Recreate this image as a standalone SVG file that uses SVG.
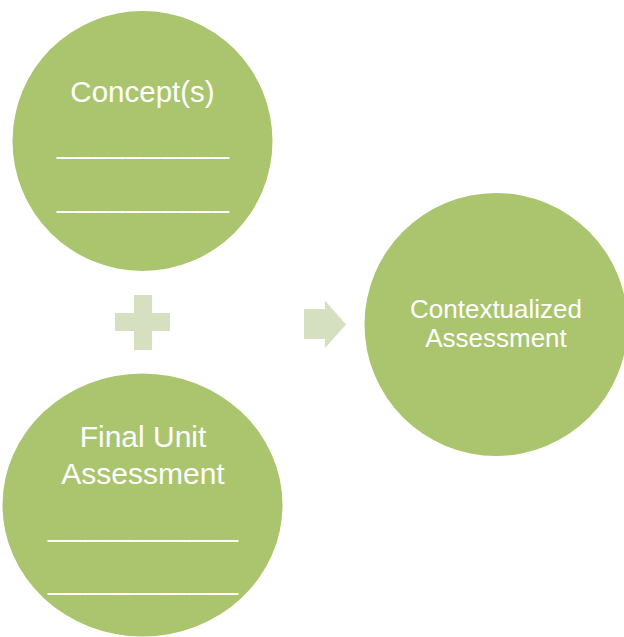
<svg xmlns="http://www.w3.org/2000/svg" width="624" height="637" viewBox="0 0 624 637">
<style>
.node{fill:#ABC56E}
.sym{fill:#D4E0C0}
.t{fill:#FFFFFF;font-family:"Liberation Sans",Arial,sans-serif;text-anchor:middle}
</style>
<rect width="624" height="637" fill="#FFFFFF"/>
<g id="concepts">
<circle class="node" cx="142.5" cy="141" r="130"/>
<text class="t" x="142.5" y="101.5" font-size="29.5">Concept(s)</text>
<text class="t" x="143" y="153" font-size="29.5" textLength="172" lengthAdjust="spacing">__________</text>
<text class="t" x="143" y="207" font-size="29.5" textLength="172" lengthAdjust="spacing">__________</text>
</g>
<g id="final-unit-assessment">
<ellipse class="node" cx="142.5" cy="505" rx="140" ry="131.5"/>
<text class="t" x="143" y="446.5" font-size="30">Final Unit</text>
<text class="t" x="143" y="484" font-size="30">Assessment</text>
<text class="t" x="143" y="536" font-size="30" textLength="190" lengthAdjust="spacing">___________</text>
<text class="t" x="143" y="589" font-size="30" textLength="190" lengthAdjust="spacing">___________</text>
</g>
<g id="contextualized-assessment">
<circle class="node" cx="496" cy="324.5" r="131.5"/>
<text class="t" x="496" y="318" font-size="26">Contextualized</text>
<text class="t" x="496" y="346.5" font-size="26">Assessment</text>
</g>
<g id="connectors">
<path class="sym" d="M134 295H152V313H170V331H152V350H134V331H115V313H134Z"/>
<path class="sym" d="M304 309H325V300.7L346 324.5L325 348V339H304Z"/>
</g>
</svg>
